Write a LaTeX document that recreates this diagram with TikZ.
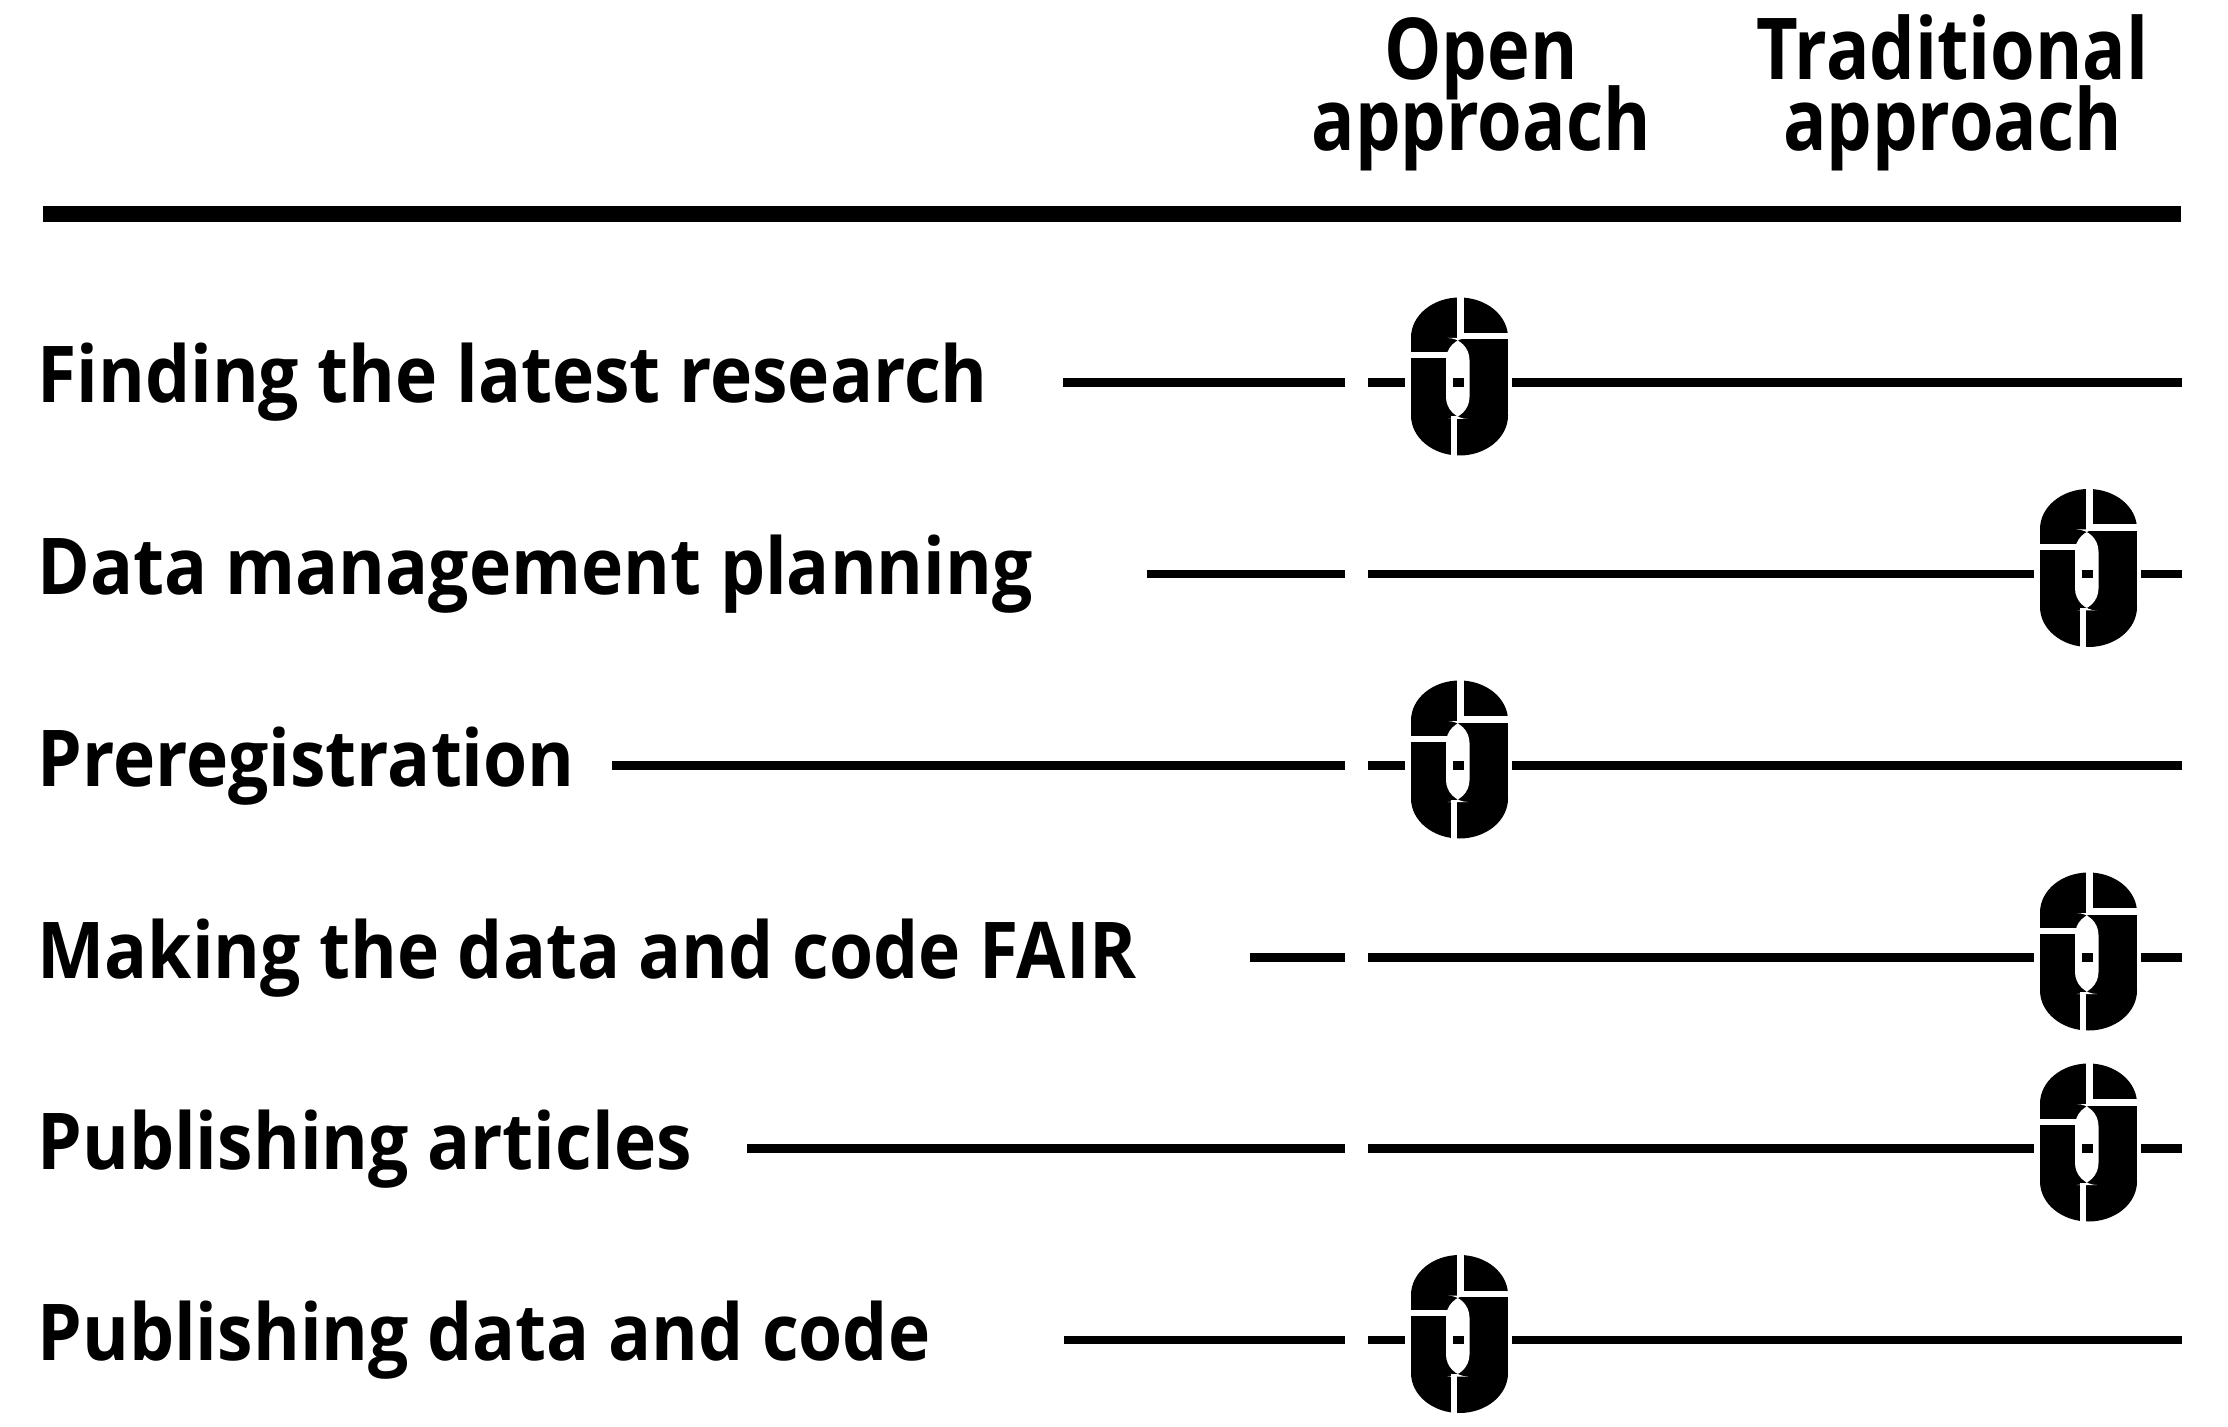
\documentclass[tikz,border=0pt]{standalone}
\usepackage{fontspec}
\newfontfamily\labelfont[FakeStretch=0.91]{Open Sans}
\newfontfamily\headfont[FakeStretch=0.845]{Open Sans}
\newcommand\headsetup{\headfont\bfseries\fontsize{42.7pt}{35.5pt}\selectfont\setlength{\lineskiplimit}{-40pt}\setlength{\lineskip}{0pt}}
\begin{document}
\begin{tikzpicture}[x=0.5pt,y=-0.5pt,
  rowline/.style={line width=4.25pt},
  rowlabel/.style={anchor=base west, inner sep=0pt, font=\labelfont\bfseries\fontsize{39.2pt}{44pt}\selectfont},
  headtext/.style={anchor=base, inner sep=0pt, align=center, font=\headsetup},
  knob/.pic={
    \fill (-48.5,-39) rectangle (48.5,39);
    \fill (0,-39) ellipse [x radius=48.5, y radius=40];
    \fill (0,39) ellipse [x radius=48.5, y radius=40];
    \fill[white, rounded corners=11] (-13.5,-38.5) rectangle (10,42.5);
    \fill[white] (-2.5,-85) rectangle (4.5,-37);
    \fill[white] (3,-43.5) rectangle (55,-37);
    \fill[white] (-55,-24) rectangle (-12,-18);
    \fill[white] (-8.5,40) rectangle (-2.5,85);
    \fill (-7,1.75) rectangle (4,10.25);
  }]
\useasboundingbox (0,0) rectangle (2228,1427);

% headers
\node[headtext] (h1) at (1481,151) {Open\\approach};
\node[headtext] (h2) at (1952.5,151) {Traditional\\approach};
\coordinate (ruleL) at (43,214.5);
\coordinate (ruleR) at (2181,214.5);
\draw[line width=8pt] (ruleL) -- (ruleR);

% rows: label, left start, knob side
\foreach \y/\lab/\xs/\side [count=\i] in {
  382.5/Finding the latest research/1063/o,
  574/Data management planning/1147/t,
  765.5/Preregistration/612/o,
  957.5/Making the data and code FAIR/1250/t,
  1148.5/Publishing articles/747/t,
  1340/Publishing data and code/1064/o}{
  \node[rowlabel] (lab\i) at (37,\y+20.5) {\lab};
  \coordinate (a\i) at (\xs,\y);
  \coordinate (b\i) at (1345,\y);
  \coordinate (c\i) at (1368,\y);
  \coordinate (e\i) at (2182,\y);
  \draw[rowline] (a\i) -- (b\i);
  \if o\side
    \coordinate (k\i) at (1459.5,\y-6);
    \draw[rowline] (c\i) -- (1405,\y);
    \draw[rowline] (1512,\y) -- (e\i);
  \else
    \coordinate (k\i) at (2088.5,\y-6);
    \draw[rowline] (c\i) -- (2034,\y);
    \draw[rowline] (2141,\y) -- (e\i);
  \fi
  \pic at (k\i) {knob};
}
\end{tikzpicture}
\end{document}
